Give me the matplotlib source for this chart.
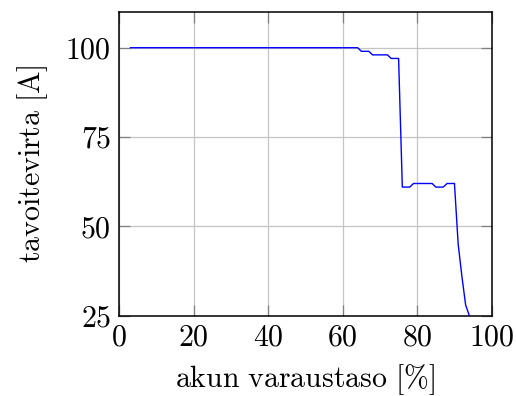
import numpy as np
import matplotlib
matplotlib.use('Agg')
import matplotlib.pyplot as plt

plt.rcParams['mathtext.fontset'] = 'cm'
plt.rcParams['font.family'] = 'serif'
plt.rcParams['font.serif'] = ['cmr10', 'DejaVu Serif']
plt.rcParams['axes.formatter.use_mathtext'] = True

# charge level [%] and target current [A]
soc = [3, 64, 65, 67, 68, 72, 73, 75, 76, 78, 79, 84, 85, 87, 88, 90, 91, 92, 93, 94]
current = [100, 100, 99, 99, 98, 98, 97, 97, 61, 61, 62, 62, 61, 61, 62, 62, 45, 36, 28, 25]

x_ticks = [0, 20, 40, 60, 80, 100]
y_ticks = [25, 50, 75, 100]

fig = plt.figure(figsize=(5.16, 3.96), dpi=100)
ax = fig.add_axes([0.2312, 0.2028, 0.7217, 0.7669])

ax.plot(soc, current, color='blue', lw=1.0, zorder=3)

ax.set_xlim(0, 100)
ax.set_ylim(25, 110)
ax.set_xticks(x_ticks)
ax.set_yticks(y_ticks)
ax.set_xticklabels([f'${t}$' for t in x_ticks])
ax.set_yticklabels([f'${t}$' for t in y_ticks])

ax.grid(True, color='#c4c4c4', lw=0.9)
ax.set_axisbelow(True)
ax.tick_params(direction='in', length=8, width=0.9, color='#808080',
               top=True, right=True, labelsize=21.5, pad=6)
for s in ax.spines.values():
    s.set_linewidth(1.1)

ax.set_xlabel(r'$\mathrm{akun\ varaustaso\ [\%]}$', fontsize=21.5, labelpad=8)
ax.set_ylabel(r'$\mathrm{tavoitevirta\ [A]}$', fontsize=21.5, labelpad=11)

fig.savefig('out.png', dpi=100)
